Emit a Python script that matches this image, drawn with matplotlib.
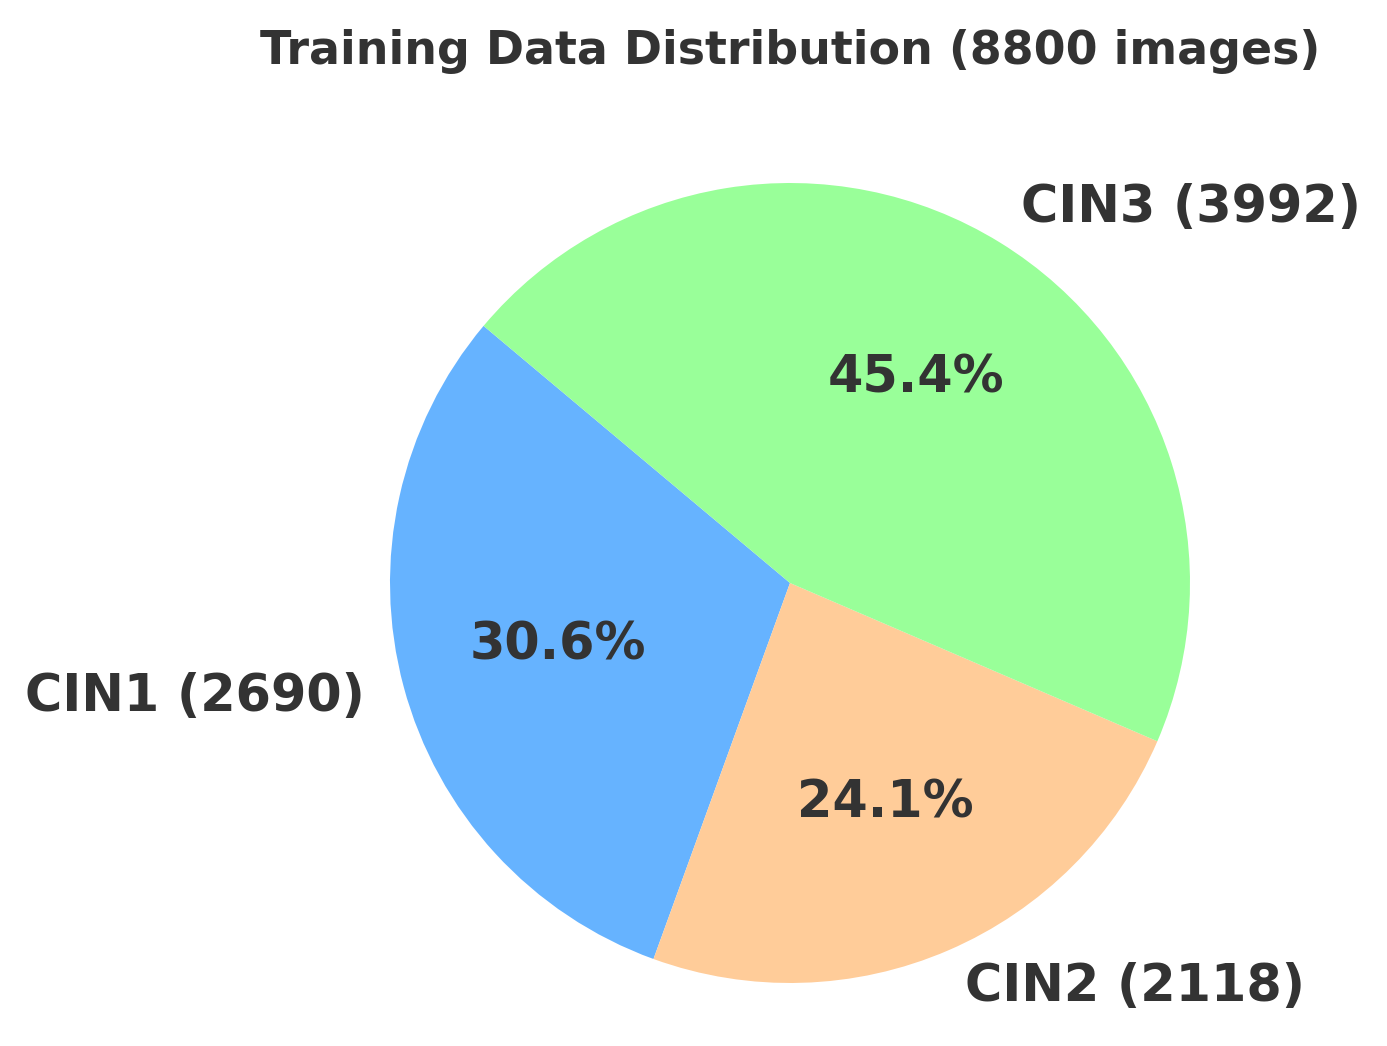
import matplotlib
matplotlib.use("Agg")
import matplotlib.pyplot as plt

CLASSES = ["CIN1", "CIN2", "CIN3"]
COUNTS = [2690, 2118, 3992]
COLORS = ["#66b3ff", "#ffcc99", "#99ff99"]
TEXT_COLOR = "#333333"

labels = [f"{name} ({count})" for name, count in zip(CLASSES, COUNTS)]
total = sum(COUNTS)

W, H = 1387, 1046
fig = plt.figure(figsize=(W / 200, H / 200), dpi=200)
# pie centre ~(790, 583) px, radius ~400 px
ax = fig.add_axes([390 / W, (H - 983) / H, 800 / W, 800 / H])

wedges, texts, autotexts = ax.pie(
    COUNTS,
    labels=labels,
    colors=COLORS,
    autopct="%1.1f%%",
    startangle=140,
    textprops={"fontsize": 18.3, "fontweight": "bold", "color": TEXT_COLOR},
)
ax.set_xlim(-1, 1)
ax.set_ylim(-1, 1)

fig.text(790 / W, 1 - 52 / H, f"Training Data Distribution ({total} images)",
         ha="center", va="center", fontsize=16.5, fontweight="bold", color=TEXT_COLOR)

fig.savefig("out.png", dpi=200)
